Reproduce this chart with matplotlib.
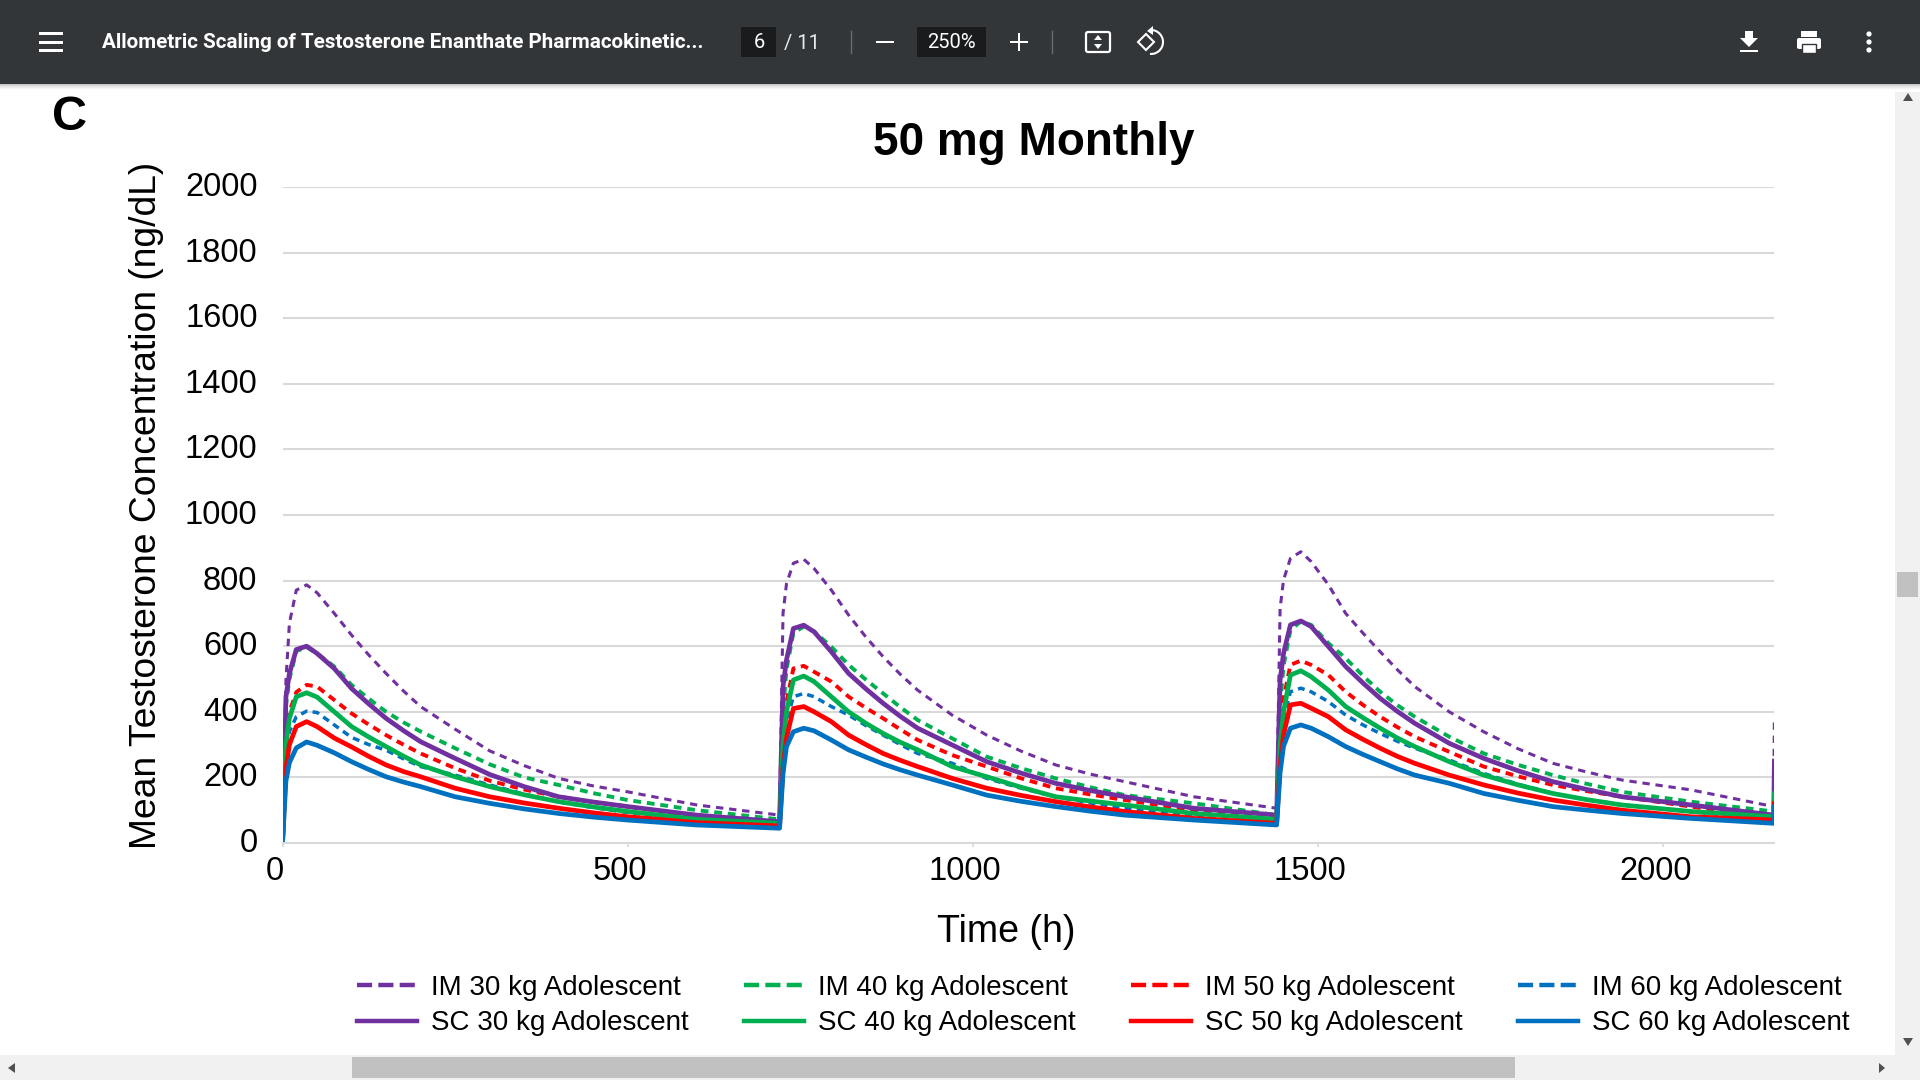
import matplotlib
matplotlib.use("Agg")
import matplotlib.pyplot as plt
import matplotlib.transforms as mtrans
from matplotlib.lines import Line2D
from matplotlib.patches import Rectangle, Polygon, Circle, Arc, FancyBboxPatch

plt.rcParams['font.family'] = ['Liberation Sans', 'DejaVu Sans']

# time points (h), three doses at 0, 720, 1440 and the start of the 4th
time_h = [0, 5, 10, 20, 35, 50, 75, 100, 125, 150, 175, 200, 250, 300, 350, 400, 450, 500, 600, 720,
          725, 730, 740, 755, 770, 795, 820, 845, 870, 895, 920, 970, 1020, 1070, 1120, 1170, 1220, 1320, 1440,
          1445, 1450, 1460, 1475, 1490, 1515, 1540, 1565, 1590, 1615, 1640, 1690, 1740, 1790, 1840, 1890, 1940, 2040, 2160,
          2161]

im_30 = [0, 497, 670, 771, 787, 763, 700, 634, 573, 517, 464, 416, 347, 281, 236, 197, 174, 156, 116, 85,
         700, 790, 853, 865, 837, 771, 695, 628, 568, 514, 466, 390, 329, 280, 238, 210, 187, 141, 106,
         715, 802, 868, 888, 858, 787, 700, 640, 583, 528, 477, 400, 339, 287, 243, 216, 192, 162, 111,
         385]
im_40 = [0, 420, 500, 585, 597, 578, 538, 482, 440, 400, 368, 340, 289, 240, 200, 177, 152, 131, 100, 72,
         400, 530, 640, 660, 645, 598, 543, 498, 456, 414, 375, 319, 263, 228, 197, 170, 146, 121, 85,
         420, 540, 650, 675, 665, 609, 563, 510, 461, 420, 385, 324, 273, 238, 207, 180, 156, 126, 96,
         200]
im_50 = [0, 330, 400, 460, 482, 477, 436, 395, 361, 329, 300, 273, 228, 190, 163, 141, 125, 111, 82, 60,
         330, 430, 532, 540, 522, 492, 446, 412, 380, 346, 314, 268, 233, 197, 167, 148, 131, 100, 70,
         350, 440, 543, 556, 543, 512, 461, 421, 385, 353, 324, 278, 233, 203, 177, 158, 141, 111, 75,
         170]
im_60 = [0, 260, 340, 385, 402, 398, 360, 322, 300, 283, 257, 233, 207, 177, 149, 125, 108, 93, 68, 52,
         280, 370, 446, 456, 446, 416, 390, 358, 329, 300, 273, 243, 197, 167, 141, 122, 106, 85, 65,
         280, 380, 461, 472, 461, 431, 390, 360, 334, 310, 289, 253, 212, 179, 151, 132, 116, 96, 70,
         140]
sc_30 = [0, 446, 517, 590, 600, 578, 532, 471, 424, 380, 343, 309, 258, 209, 172, 141, 125, 111, 85, 65,
         477, 558, 654, 664, 644, 583, 517, 470, 426, 386, 350, 299, 248, 213, 182, 160, 141, 106, 85,
         497, 578, 665, 677, 660, 599, 538, 488, 441, 401, 365, 304, 258, 220, 187, 163, 141, 116, 85,
         250]
sc_40 = [0, 300, 380, 446, 458, 445, 400, 355, 323, 294, 265, 238, 202, 172, 147, 126, 110, 96, 72, 60,
         300, 400, 497, 509, 492, 446, 400, 365, 334, 307, 284, 233, 202, 170, 141, 128, 116, 90, 72,
         300, 400, 512, 525, 507, 466, 416, 382, 350, 320, 294, 248, 207, 177, 151, 132, 116, 96, 80,
         150]
sc_50 = [0, 230, 300, 355, 370, 355, 320, 293, 264, 238, 218, 202, 167, 141, 122, 106, 92, 80, 62, 52,
         230, 320, 410, 416, 400, 370, 329, 300, 273, 252, 233, 197, 167, 145, 126, 110, 96, 75, 60,
         240, 330, 421, 426, 411, 385, 345, 316, 289, 264, 243, 207, 177, 152, 131, 115, 100, 80, 70,
         120]
sc_60 = [0, 190, 245, 290, 308, 298, 275, 248, 224, 202, 186, 172, 141, 121, 104, 90, 79, 70, 55, 45,
         212, 294, 339, 350, 342, 314, 284, 262, 241, 223, 207, 177, 146, 127, 111, 97, 85, 70, 55,
         215, 295, 350, 360, 350, 324, 294, 270, 248, 226, 207, 182, 151, 130, 111, 100, 90, 75, 60,
         110]

y_ticks = [0, 200, 400, 600, 800, 1000, 1200, 1400, 1600, 1800, 2000]
x_ticks = [0, 500, 1000, 1500, 2000]

purple, green, red, blue = '#7030A0', '#00B050', '#FF0000', '#0070C0'
grid_col = '#D9D9D9'

W, H = 1920, 1080
fig = plt.figure(figsize=(W / 100, H / 100), dpi=100, facecolor='white')

# background layer in pixel coordinates, for the pdf viewer around the chart
bg = fig.add_axes([0, 0, 1, 1])
bg.set_xlim(0, W)
bg.set_ylim(H, 0)
bg.axis('off')

ax = fig.add_axes([282.5 / W, 1 - 843 / H, (1774.4 - 282.5) / W, (843 - 187) / H])
ax.patch.set_alpha(0)

dash_thin = (0, (2.4, 1.9))
dash_wide = (0, (2.0, 1.5))
ax.plot(time_h, im_30, color=purple, lw=2.2, ls=dash_thin)
ax.plot(time_h, im_40, color=green, lw=2.8, ls=dash_wide)
ax.plot(time_h, im_50, color=red, lw=2.8, ls=dash_wide)
ax.plot(time_h, im_60, color=blue, lw=2.5, ls=dash_wide)
ax.plot(time_h, sc_30, color=purple, lw=3.4)
ax.plot(time_h, sc_40, color=green, lw=3.4)
ax.plot(time_h, sc_50, color=red, lw=3.4)
ax.plot(time_h, sc_60, color=blue, lw=3.4)

ax.set_xlim(0, 2161)
ax.set_ylim(0, 2000)
ax.set_yticks(y_ticks)
ax.set_xticks(x_ticks)
ax.grid(axis='y', color=grid_col, lw=1.5)
ax.set_axisbelow(True)
for s in ['top', 'right', 'left']:
    ax.spines[s].set_visible(False)
ax.spines['bottom'].set_color(grid_col)
ax.spines['bottom'].set_linewidth(1.5)
ax.tick_params(axis='y', length=0, pad=18, labelsize=23.5)
ax.tick_params(axis='x', length=3, width=1.2, color=grid_col, pad=6.5, labelsize=23.5)

# tick labels sit a little off their ticks in the original
for lab in ax.get_xticklabels():
    lab.set_transform(lab.get_transform() + mtrans.ScaledTranslation(-8 / 100, 0, fig.dpi_scale_trans))
for lab in ax.get_yticklabels():
    lab.set_transform(lab.get_transform() + mtrans.ScaledTranslation(0, 3 / 100, fig.dpi_scale_trans))

bg.text(70, 118, 'C', fontsize=35, fontweight='bold', ha='center', va='center')
bg.text(1034, 143, '50 mg Monthly', fontsize=33, fontweight='bold', ha='center', va='center')
bg.text(147, 505, 'Mean Testosterone Concentration (ng/dL)', fontsize=26.8, rotation=90, ha='center', va='center')
bg.text(1006, 932, 'Time (h)', fontsize=27, ha='center', va='center')

handles = []
labels = []
for weight, col in zip([30, 40, 50, 60], [purple, green, red, blue]):
    handles.append(Line2D([], [], color=col, lw=3.2, ls=(0, (3.4, 1.4))))
    labels.append(f'IM {weight} kg Adolescent')
    handles.append(Line2D([], [], color=col, lw=3.2))
    labels.append(f'SC {weight} kg Adolescent')
fig.legend(handles, labels, ncol=4, loc='upper left', bbox_to_anchor=(357 / W, 1 - 975 / H),
           frameon=False, fontsize=20, handlelength=2.16, handletextpad=0.5,
           columnspacing=2.0, labelspacing=0.34, borderpad=0, borderaxespad=0)

# viewer toolbar
bar_col = '#323639'
for i, a in enumerate([0.22, 0.16, 0.11, 0.07, 0.04, 0.02]):
    bg.add_patch(Rectangle((0, 84 + i), W, 1, fc='black', alpha=a, lw=0))
bg.add_patch(Rectangle((0, 0), W, 84, fc=bar_col, lw=0))

for y in [33, 42, 50]:
    bg.add_patch(Rectangle((39, y - 1.5), 24, 3, fc='white', lw=0))

ui_font = ['Roboto', 'DejaVu Sans']
bg.text(102, 43, 'Allometric Scaling of Testosterone Enanthate Pharmacokinetic...', color='white',
        fontsize=14.85, fontweight='bold', family=ui_font, ha='left', va='center')
bg.add_patch(Rectangle((741, 27), 35, 30, fc='#191B1C', lw=0))
bg.text(759, 43, '6', color='white', fontsize=14.5, family=ui_font, ha='center', va='center')
bg.text(784, 43, '/ 11', color='#E8EAED', fontsize=14.5, family=ui_font, ha='left', va='center')
for x in [851, 1052]:
    bg.plot([x, x], [31, 53], color='#6A6D70', lw=1)
bg.add_patch(Rectangle((876, 41), 18, 2.2, fc='white', lw=0))
bg.add_patch(Rectangle((917, 27), 69, 30, fc='#191B1C', lw=0))
bg.text(951, 43, '250%', color='white', fontsize=14.5, family=ui_font, ha='center', va='center')
bg.add_patch(Rectangle((1010, 41), 18, 2.2, fc='white', lw=0))
bg.add_patch(Rectangle((1018, 33), 2.2, 18, fc='white', lw=0))

# fit to page icon
bg.add_patch(FancyBboxPatch((1086, 32), 24, 20, boxstyle='round,pad=0,rounding_size=2', fc='none', ec='white', lw=1.6))
bg.add_patch(Polygon([(1098, 35), (1094, 40), (1102, 40)], fc='white', lw=0))
bg.add_patch(Polygon([(1098, 49), (1094, 44), (1102, 44)], fc='white', lw=0))

# rotate icon
bg.add_patch(Polygon([(1146, 34), (1154, 42), (1146, 50), (1138, 42)], fc='none', ec='white', lw=1.5))
bg.add_patch(Arc((1151, 42), 24, 24, theta1=-90, theta2=95, ec='white', lw=1.5))
bg.add_patch(Polygon([(1153, 26), (1147, 31), (1153, 35)], fc='white', lw=0))

# download icon
bg.add_patch(Polygon([(1745, 31), (1753, 31), (1753, 38), (1758, 38), (1749, 47), (1740, 38), (1745, 38)], fc='white', lw=0))
bg.add_patch(Rectangle((1740, 50), 18, 2, fc='white', lw=0))

# print icon
bg.add_patch(Rectangle((1801, 31), 16, 6, fc='white', lw=0))
bg.add_patch(FancyBboxPatch((1797, 38), 24, 11, boxstyle='round,pad=0,rounding_size=2', fc='white', lw=0))
bg.add_patch(Rectangle((1802, 44), 14, 9, fc='white', ec=bar_col, lw=1))

for y in [34, 42, 50]:
    bg.add_patch(Circle((1869, y), 2.6, fc='white', lw=0))

# scrollbars
track = '#F1F1F1'
thumb = '#C1C1C1'
arrow = '#505050'
bg.add_patch(Rectangle((1895, 92), 25, 963, fc=track, lw=0))
bg.add_patch(Rectangle((0, 1055), W, 25, fc=track, lw=0))
bg.add_patch(Rectangle((1897, 572), 21, 25, fc=thumb, lw=0))
bg.add_patch(Rectangle((352, 1057), 1163, 21, fc=thumb, lw=0))
bg.add_patch(Polygon([(1908, 93), (1903, 101), (1913, 101)], fc=arrow, lw=0))
bg.add_patch(Polygon([(1908, 1046), (1903, 1038), (1913, 1038)], fc=arrow, lw=0))
bg.add_patch(Polygon([(8, 1068), (15, 1063), (15, 1073)], fc=arrow, lw=0))
bg.add_patch(Polygon([(1885, 1068), (1879, 1063), (1879, 1073)], fc=arrow, lw=0))

fig.savefig('out.png', dpi=100)
